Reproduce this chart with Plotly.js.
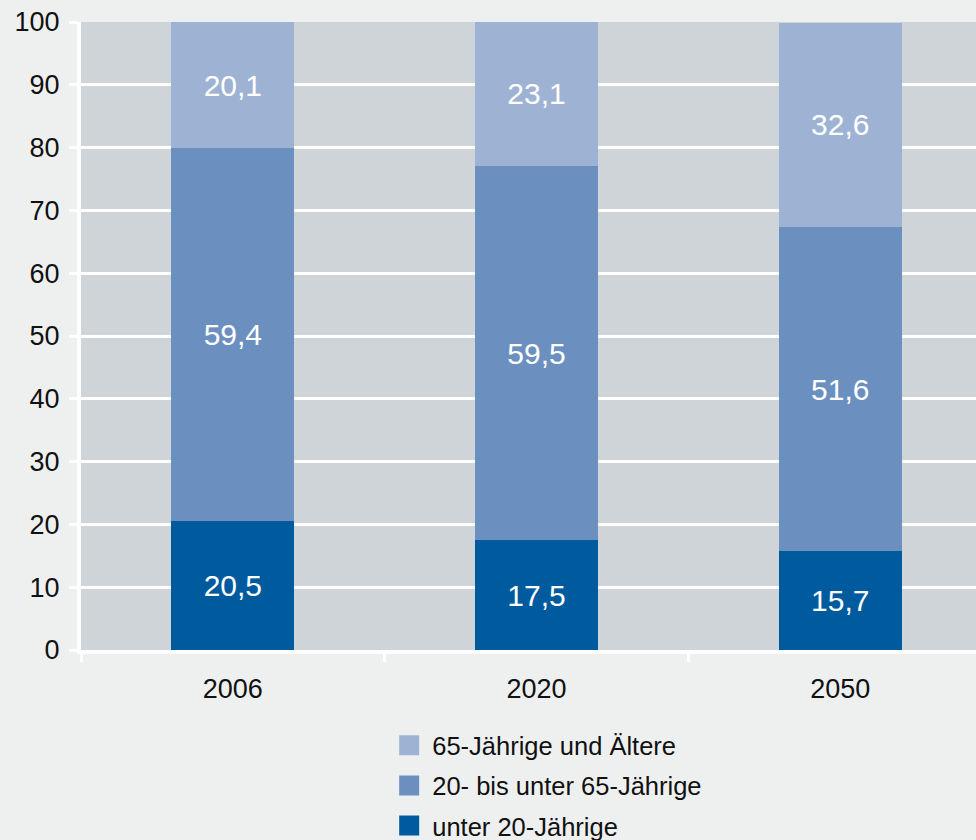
<!DOCTYPE html>
<html>
<head>
<meta charset="utf-8">
<script src="https://cdn.plot.ly/plotly-3.0.1.min.js"></script>
<style>
  body { margin: 0; background: #eef0f0; }
  #chart { width: 976px; height: 840px; }
</style>
</head>
<body>
<div id="chart"></div>
<script>
// Altersstruktur der Bevölkerung in %
var years = ['2006', '2020', '2050']
var unter20 = [20.5, 17.5, 15.7]
var mitte = [59.4, 59.5, 51.6]
var alt = [20.1, 23.1, 32.6]
var names = ['unter 20-Jährige', '20- bis unter 65-Jährige', '65-Jährige und Ältere']
var colors = ['#005a9e', '#6b90c0', '#9eb3d4']

function fmt(v) {
    return v.toFixed(1).replace('.', ',')
}

var series = [unter20, mitte, alt]
var data = []

for (let i = 0; i < series.length; i++) {
    data.push({
        type: 'bar',
        x: years,
        y: series[i],
        name: names[i],
        text: series[i].map(fmt),
        textposition: 'inside',
        insidetextanchor: 'middle',
        textfont: { color: '#ffffff', size: 30, family: 'Liberation Sans, Arial, sans-serif' },
        marker: { color: colors[i], line: { width: 0 } },
        width: 0.405,
        showlegend: false,
        hoverinfo: 'skip'
    })
}

// legend entries with bigger squares, top age group first
for (let i = series.length - 1; i >= 0; i--) {
    data.push({
        type: 'scatter',
        mode: 'markers',
        x: [null],
        y: [null],
        name: names[i],
        legendgroup: 'g' + i,
        marker: { symbol: 'square', size: 16, color: colors[i], line: { color: colors[i], width: 4 } },
        showlegend: true
    })
}

var layout = {
    width: 976,
    height: 840,
    barmode: 'stack',
    paper_bgcolor: '#eef0f0',
    plot_bgcolor: '#cfd4d8',
    font: { family: 'Liberation Sans, Arial, sans-serif', size: 27, color: '#111111' },
    margin: { l: 81, r: 0, t: 22, b: 190, autoexpand: false },
    xaxis: {
        type: 'category',
        range: [-0.5, 2.447],
        showline: true,
        linecolor: '#ffffff',
        linewidth: 4,
        ticks: 'outside',
        tickson: 'boundaries',
        ticklen: 8,
        tickwidth: 3,
        tickcolor: '#ffffff',
        ticklabelstandoff: 12,
        showgrid: false,
        tickfont: { size: 27 }
    },
    yaxis: {
        range: [0, 100],
        dtick: 10,
        showline: true,
        linecolor: '#ffffff',
        linewidth: 4,
        ticks: 'outside',
        ticklen: 8,
        tickwidth: 3,
        tickcolor: '#ffffff',
        ticklabelstandoff: 4,
        gridcolor: '#ffffff',
        gridwidth: 3,
        zeroline: false,
        tickfont: { size: 27 }
    },
    legend: {
        x: 0.341,
        y: -0.115,
        xanchor: 'left',
        yanchor: 'top',
        bgcolor: 'rgba(0,0,0,0)',
        tracegroupgap: 4,
        itemwidth: 36,
        font: { size: 25.5 }
    },
    showlegend: true
}

var config = { displayModeBar: false }

Plotly.newPlot('chart', data, layout, config)
</script>
</body>
</html>
